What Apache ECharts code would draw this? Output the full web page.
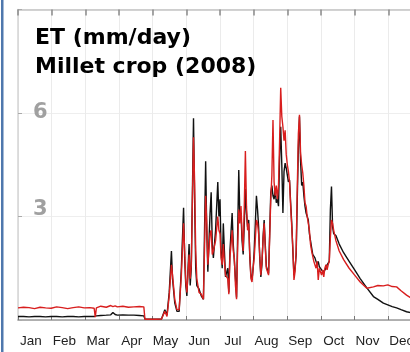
<!DOCTYPE html>
<html>
<head>
<meta charset="utf-8">
<script src="https://cdn.jsdelivr.net/npm/echarts@6/dist/echarts.min.js"></script>
<style>
  html, body { margin: 0; padding: 0; background: #ffffff; width: 410px; height: 352px; overflow: hidden; }
  /* the canvas is a little wider than the page, so December is clipped at the right edge */
  #chart { width: 422px; height: 352px; }
</style>
</head>
<body>
<div id="chart"></div>
<script>
// Month labels for the band axis (2008, leap year: 366 days)
const months = ['Jan', 'Feb', 'Mar', 'Apr', 'May', 'Jun', 'Jul', 'Aug', 'Sep', 'Oct', 'Nov', 'Dec'];
const yTicks = [3, 6];

// Day of year for each sample
const days = [
  0, 5, 10, 15, 20, 25, 30, 35, 40, 45, 50, 55, 60, 65, 69, 70, 71, 72, 75, 80, 84, 86, 88, 90, 95, 100, 105, 110, 114, 115, 120, 125, 130,
  133, 135, 137, 139, 140, 142, 144, 146, 148, 150, 151, 152, 153, 155, 156, 157, 159, 160, 161, 162, 164, 166, 168,
  170, 171, 172, 174, 175, 176, 177, 179, 181, 182, 183, 184, 185, 186, 187, 188, 190, 191, 192, 194, 195, 196, 197, 198, 199,
  200, 201, 202, 203, 204, 205, 206, 207, 208, 209, 210, 211, 212, 213, 214, 216, 217, 218, 219, 220, 221, 222, 223, 224, 225,
  226, 227, 228, 229, 230, 231, 232, 233, 234, 235, 236, 237, 238, 239, 240, 241, 242, 243, 244, 245, 246, 247, 248, 249, 250,
  251, 252, 253, 254, 255, 256, 257, 258, 259, 260, 261, 262, 263, 264, 265, 266, 267, 268, 269, 270, 271, 272, 273, 274, 275,
  276, 277, 278, 279, 280, 281, 282, 283, 284, 285, 286, 288, 291, 295, 300, 305, 310, 316, 322, 326, 331, 335, 339, 343, 347,
  352, 358, 366
];

// Black line: ET (mm/day)
const etBlack = [
  0.10, 0.10, 0.09, 0.10, 0.10, 0.09, 0.10, 0.10, 0.09, 0.10, 0.10, 0.09, 0.10, 0.10, 0.10, 0.13, 0.12, 0.14, 0.13, 0.14, 0.15, 0.22, 0.16, 0.14, 0.15, 0.14, 0.14, 0.13, 0.12, 0.03, 0.02, 0.02, 0.03,
  0.30, 0.15, 0.80, 2.00, 1.20, 0.50, 0.25, 0.25, 1.50, 3.25, 1.80, 1.00, 0.70, 2.20, 1.00, 1.50, 5.85, 3.50, 1.50, 1.00, 0.90, 0.70, 0.60,
  4.60, 2.60, 1.40, 3.10, 3.70, 2.20, 1.80, 2.60, 4.00, 3.00, 3.50, 2.00, 1.50, 2.80, 2.00, 1.25, 1.50, 0.80, 2.00, 3.10, 2.20, 1.70, 1.20, 0.65, 2.50,
  4.35, 3.00, 3.10, 2.30, 1.90, 2.80, 3.80, 3.10, 2.70, 2.90, 1.80, 1.30, 1.16, 1.50, 2.00, 3.60, 3.20, 2.70, 1.80, 1.25, 1.60, 2.40, 2.90, 2.20, 1.55,
  1.60, 1.35, 2.50, 3.70, 3.90, 3.60, 3.50, 3.80, 3.40, 3.50, 3.30, 4.70, 5.60, 4.50, 3.10, 4.30, 4.55, 4.40, 4.20, 4.00, 4.06, 3.40, 2.80, 2.00, 1.30,
  1.50, 1.90, 3.50, 5.00, 5.90, 4.60, 3.90, 4.00, 3.60, 3.30, 3.10, 3.10, 2.90, 2.50, 2.30, 2.10, 1.90, 1.85, 1.80, 1.70, 1.60, 1.70, 1.55, 1.50, 1.45,
  1.50, 1.40, 1.45, 1.50, 1.60, 1.55, 1.70, 3.20, 3.87, 2.70, 2.50, 2.45, 2.20, 1.95, 1.70, 1.45, 1.20, 0.93, 0.68, 0.60, 0.49, 0.44, 0.39, 0.35, 0.30,
  0.24, 0.20, 0.15
];

// Red line: ET (mm/day)
const etRed = [
  0.35, 0.37, 0.36, 0.33, 0.37, 0.35, 0.34, 0.38, 0.36, 0.33, 0.36, 0.38, 0.35, 0.36, 0.34, 0.08, 0.35, 0.38, 0.40, 0.37, 0.42, 0.39, 0.41, 0.38, 0.40, 0.37, 0.38, 0.39, 0.38, 0.02, 0.02, 0.02, 0.03,
  0.25, 0.10, 0.70, 1.60, 1.30, 0.60, 0.30, 0.30, 1.30, 2.80, 2.00, 1.10, 0.80, 1.90, 1.20, 1.60, 5.30, 4.00, 2.00, 1.20, 0.80, 0.75, 0.60,
  3.60, 2.80, 1.60, 2.50, 2.60, 1.90, 2.00, 2.30, 3.00, 2.60, 2.50, 1.80, 1.60, 2.20, 1.70, 1.30, 1.20, 0.75, 1.80, 2.60, 2.00, 1.80, 1.00, 0.60, 2.10,
  3.20, 2.80, 3.30, 2.50, 2.00, 3.30, 4.90, 3.30, 2.60, 2.80, 1.90, 1.20, 1.10, 1.50, 1.80, 2.90, 2.80, 2.50, 1.90, 1.30, 1.70, 2.30, 2.80, 2.10, 1.50,
  1.50, 1.30, 2.40, 3.50, 4.20, 5.80, 4.00, 3.60, 3.90, 3.50, 3.90, 5.20, 6.73, 5.90, 5.60, 5.20, 5.50, 4.80, 4.50, 4.30, 4.00, 3.30, 2.70, 2.10, 1.16,
  1.40, 2.00, 3.80, 5.40, 5.95, 4.83, 4.50, 4.26, 3.90, 3.40, 3.30, 3.00, 2.80, 2.60, 2.20, 2.00, 1.85, 1.70, 1.75, 1.50, 1.70, 1.16, 1.50, 1.55, 1.30,
  1.45, 1.25, 1.50, 1.60, 1.45, 1.60, 1.70, 2.40, 2.90, 2.80, 2.60, 2.30, 2.00, 1.75, 1.50, 1.30, 1.10, 0.92, 0.96, 1.00, 0.99, 1.02, 0.97, 0.96, 0.85,
  0.72, 0.60, 0.50
];

const blackSeries = days.map((d, i) => [d, etBlack[i]]);
const redSeries = days.map((d, i) => [d, etRed[i]]);

const chart = echarts.init(document.getElementById('chart'), null, { renderer: 'canvas' });

chart.setOption({
  animation: false,
  backgroundColor: '#ffffff',
  grid: { left: 18, right: 0, top: 9.5, bottom: 32, containLabel: false },
  title: {
    text: 'ET (mm/day)\nMillet crop (2008)',
    left: 35,
    top: 24,
    padding: 0,
    textStyle: {
      fontFamily: 'DejaVu Sans',
      fontWeight: 'bold',
      fontSize: 22,
      lineHeight: 29,
      color: '#000000'
    }
  },
  xAxis: [
    {
      type: 'value',
      min: 0,
      max: 366,
      show: false
    },
    {
      type: 'category',
      data: months,
      position: 'bottom',
      boundaryGap: true,
      axisLine: { show: true, lineStyle: { color: '#9a9a9a', width: 1.5 } },
      axisTick: { show: true, inside: true, length: 4, lineStyle: { color: '#777777' } },
      splitLine: { show: true, lineStyle: { color: '#ebebeb', width: 1 } },
      axisLabel: {
        show: true,
        interval: 0,
        margin: 14,
        padding: [0, 8, 0, 0],
        fontFamily: 'Liberation Sans, Arial, sans-serif',
        fontSize: 13.5,
        color: '#222222'
      }
    },
    {
      type: 'category',
      data: months,
      position: 'top',
      boundaryGap: true,
      axisLine: { show: true, lineStyle: { color: '#c4c4c4', width: 1.5 } },
      axisTick: { show: true, inside: true, length: 6, lineStyle: { color: '#8a8a8a', width: 1.5 } },
      splitLine: { show: false },
      axisLabel: { show: false }
    }
  ],
  yAxis: {
    type: 'value',
    min: 0,
    max: 9,
    interval: 3,
    axisLine: { show: true, lineStyle: { color: '#d4d4d4', width: 1.5 } },
    axisTick: { show: true, inside: true, length: 4, lineStyle: { color: '#aaaaaa' } },
    splitLine: { show: true, lineStyle: { color: '#eeeeee', width: 1 } },
    axisLabel: {
      inside: true,
      margin: 15,
      formatter: function (v) {
        if (v === 3) return '{lo|3}';
        if (v === 6) return '{hi|6}';
        return '';
      },
      rich: {
        hi: { fontFamily: 'DejaVu Sans', fontWeight: 'bold', fontSize: 21, color: '#a0a0a0' },
        lo: { fontFamily: 'DejaVu Sans', fontWeight: 'bold', fontSize: 21, color: '#a0a0a0', padding: [0, 0, 14, 0] }
      }
    }
  },
  graphic: [
    {
      type: 'rect',
      left: 1,
      top: 0,
      shape: { width: 2.5, height: 352 },
      style: { fill: '#4f78ad' },
      z: 100
    }
  ],
  series: [
    {
      name: 'black',
      type: 'line',
      xAxisIndex: 0,
      data: blackSeries,
      showSymbol: false,
      lineStyle: { color: '#111111', width: 1.4 },
      z: 2
    },
    {
      name: 'red',
      type: 'line',
      xAxisIndex: 0,
      data: redSeries,
      showSymbol: false,
      lineStyle: { color: '#d81e1e', width: 1.4 },
      z: 3
    }
  ]
});
</script>
</body>
</html>
